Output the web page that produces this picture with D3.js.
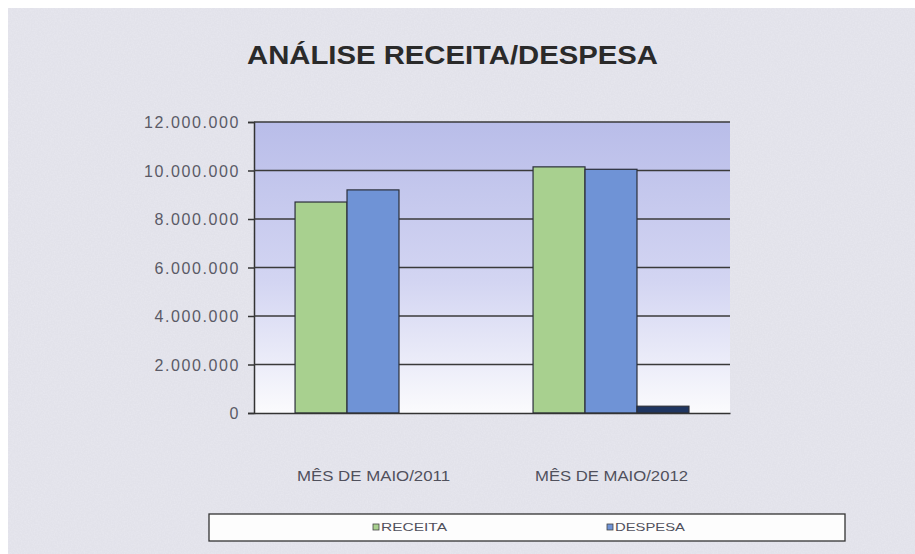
<!DOCTYPE html>
<html>
<head>
<meta charset="utf-8">
<script src="https://cdn.jsdelivr.net/npm/d3@7"></script>
<style>
  body { margin: 0; background: #fff; }
  svg { display: block; }
</style>
</head>
<body>
<div id="chart"></div>
<script>
const categories = ["MÊS DE MAIO/2011", "MÊS DE MAIO/2012"];
const seriesNames = ["RECEITA", "DESPESA", ""];
const receita = [8700000, 10150000];
const despesa = [9200000, 10050000];
const outros = [0, 280000];
const yTicks = [0, 2000000, 4000000, 6000000, 8000000, 10000000, 12000000];
const colors = ["#a8d08f", "#6f93d6", "#1f3560"];

const width = 915, height = 554;
const plot = { left: 254, right: 730, top: 122, bottom: 413 };

const svg = d3.select("#chart").append("svg")
  .attr("width", width).attr("height", height);

const defs = svg.append("defs");
const filt = defs.append("filter").attr("id", "paper").attr("x", 0).attr("y", 0).attr("width", "100%").attr("height", "100%");
filt.append("feTurbulence").attr("type", "fractalNoise").attr("baseFrequency", 0.7).attr("numOctaves", 2).attr("seed", 3).attr("result", "n");
filt.append("feColorMatrix").attr("in", "n").attr("type", "matrix")
  .attr("values", "0 0 0 0 0.80  0 0 0 0 0.80  0 0 0 0 0.86  1.6 0 0 0 -0.55");
filt.append("feComposite").attr("in2", "SourceGraphic").attr("operator", "in").attr("result", "t");
filt.append("feMerge").call(m => {
  m.append("feMergeNode").attr("in", "SourceGraphic");
  m.append("feMergeNode").attr("in", "t");
});

const grad = defs.append("linearGradient").attr("id", "bg").attr("x1", 0).attr("y1", 0).attr("x2", 0).attr("y2", 1);
grad.append("stop").attr("offset", "0%").attr("stop-color", "#b9bde9");
grad.append("stop").attr("offset", "55%").attr("stop-color", "#d3d5f2");
grad.append("stop").attr("offset", "100%").attr("stop-color", "#fbfbfd");

// paper background
svg.append("rect").attr("x", 8).attr("y", 8).attr("width", width - 8).attr("height", height - 8)
  .attr("fill", "#e2e2ea").attr("filter", "url(#paper)");

svg.append("text").attr("x", 247).attr("y", 64)
  .attr("textLength", 411).attr("lengthAdjust", "spacingAndGlyphs")
  .style("font-family", "Liberation Sans, Arial, sans-serif").style("font-weight", "bold")
  .style("font-size", "25px").attr("fill", "#2a2a2a")
  .text("ANÁLISE RECEITA/DESPESA");

const y = d3.scaleLinear().domain([0, 12000000]).range([plot.bottom, plot.top]);
const x0 = d3.scaleBand().domain(categories).range([plot.left, plot.right]).paddingInner(0).paddingOuter(0);
const x1 = d3.scaleBand().domain(d3.range(3)).range([0, x0.bandwidth()]).paddingInner(0).paddingOuter(0.79);

svg.append("rect").attr("x", plot.left).attr("y", plot.top)
  .attr("width", plot.right - plot.left).attr("height", plot.bottom - plot.top)
  .attr("fill", "url(#bg)");

const fmt = v => d3.format(",")(v).replace(/,/g, ".");

const yAxis = svg.append("g").attr("transform", `translate(${plot.left},0)`)
  .call(d3.axisLeft(y).tickValues(yTicks).tickSize(6).tickFormat(fmt));
yAxis.select(".domain").attr("stroke", "#333").attr("stroke-width", 1.5);
yAxis.selectAll(".tick line").attr("stroke", "#333").attr("stroke-width", 1.5);
yAxis.selectAll(".tick text").attr("x", -14).attr("dy", "0.36em")
  .style("font-family", "Liberation Sans, Arial, sans-serif").style("font-size", "16px")
  .style("letter-spacing", "1.6px").attr("fill", "#5a5a66");

svg.append("g").selectAll("line").data(yTicks.slice(1)).join("line")
  .attr("x1", plot.left).attr("x2", plot.right)
  .attr("y1", d => y(d)).attr("y2", d => y(d))
  .attr("stroke", "#3a3a3a").attr("stroke-width", 1.5);

const rows = categories.map((c, i) => ({ cat: c, vals: [receita[i], despesa[i], outros[i]] }));
svg.append("g").selectAll("g").data(rows).join("g")
  .attr("transform", d => `translate(${x0(d.cat)},0)`)
  .selectAll("rect").data(d => d.vals.map((v, k) => ({ v, k }))).join("rect")
  .attr("x", d => x1(d.k)).attr("width", x1.bandwidth())
  .attr("y", d => y(d.v)).attr("height", d => y(0) - y(d.v))
  .attr("fill", d => colors[d.k]).attr("stroke", "#2b2f3a").attr("stroke-width", 1.2);

const xAxis = svg.append("g").attr("transform", `translate(0,${plot.bottom})`)
  .call(d3.axisBottom(x0).tickSize(0).tickFormat(""));
xAxis.select(".domain").attr("stroke", "#333").attr("stroke-width", 1.5);

svg.append("g").selectAll("text").data(categories).join("text")
  .attr("x", d => x0(d) + x0.bandwidth() / 2 - 80 + 4).attr("y", 481)
  .attr("textLength", 153).attr("lengthAdjust", "spacingAndGlyphs")
  .style("font-family", "Liberation Sans, Arial, sans-serif").style("font-size", "14px")
  .attr("fill", "#50505c").text(d => d);

// legend
const leg = svg.append("g");
leg.append("rect").attr("x", 209).attr("y", 514).attr("width", 636).attr("height", 27)
  .attr("fill", "#fdfdfd").attr("stroke", "#333").attr("stroke-width", 1.3);
const legX = [373, 607];
const legW = [66, 70];
seriesNames.slice(0, 2).forEach((n, i) => {
  leg.append("rect").attr("x", legX[i]).attr("y", 524).attr("width", 6).attr("height", 6)
    .attr("fill", colors[i]).attr("stroke", "#444").attr("stroke-width", 0.8);
  leg.append("text").attr("x", legX[i] + 8).attr("y", 531)
    .attr("textLength", legW[i]).attr("lengthAdjust", "spacingAndGlyphs")
    .style("font-family", "Liberation Sans, Arial, sans-serif").style("font-size", "11px")
    .attr("fill", "#50505c").text(n);
});
</script>
</body>
</html>
